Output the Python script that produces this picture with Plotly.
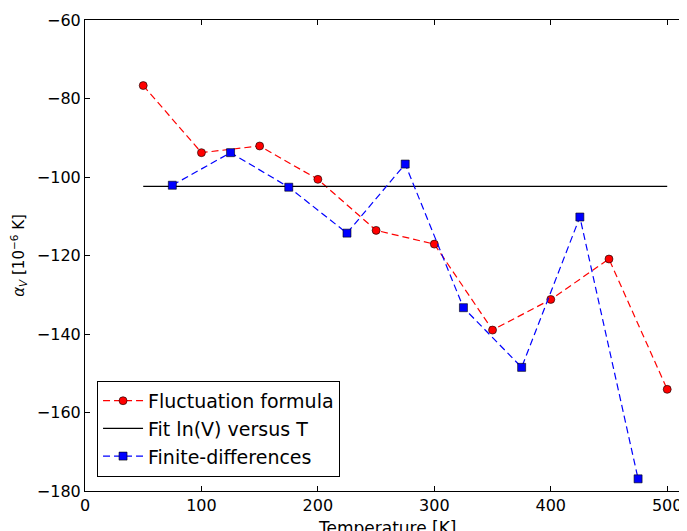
import plotly.graph_objects as go

temp_fluct = [50, 100, 150, 200, 250, 300, 350, 400, 450, 500]
alpha_fluct = [-76.7, -93.8, -92.1, -100.6, -113.6, -117.1, -139.0, -131.2, -120.9, -154.1]

temp_fd = [75, 125, 175, 225, 275, 325, 375, 425, 475]
alpha_fd = [-102.1, -93.8, -102.6, -114.3, -96.7, -133.3, -148.5, -110.2, -176.9]

temp_fit = [50, 500]
alpha_fit = [-102.4, -102.4]

fig = go.Figure()
fig.add_trace(go.Scatter(
    x=temp_fluct, y=alpha_fluct, mode="lines+markers", name="Fluctuation formula",
    line=dict(color="#ff0000", dash="7px,4px", width=1.2),
    marker=dict(symbol="circle", size=8, color="#ff0000", line=dict(color="#000000", width=0.6)),
))
fig.add_trace(go.Scatter(
    x=temp_fit, y=alpha_fit, mode="lines", name="Fit ln(V) versus T",
    line=dict(color="#000000", width=1.2),
))
fig.add_trace(go.Scatter(
    x=temp_fd, y=alpha_fd, mode="lines+markers", name="Finite-differences",
    line=dict(color="#0000ff", dash="7px,4px", width=1.2),
    marker=dict(symbol="square", size=8, color="#0000ff", line=dict(color="#000000", width=0.6)),
))

font_family = "DejaVu Sans"
fig.update_layout(
    width=679, height=523,
    margin=dict(l=77, r=0, t=12, b=40),
    paper_bgcolor="white", plot_bgcolor="white",
    font=dict(family=font_family, color="#000000", size=16),
    showlegend=True,
    legend=dict(
        x=0.02, y=0.03, xanchor="left", yanchor="bottom",
        bgcolor="white", bordercolor="#000000", borderwidth=1,
        font=dict(size=19, family=font_family),
        itemwidth=40, tracegroupgap=0,
    ),
    xaxis=dict(
        range=[0, 517], tickvals=[0, 100, 200, 300, 400, 500],
        showgrid=False, zeroline=False, showline=True, linecolor="#000000", linewidth=1,
        mirror="ticks", ticks="inside", ticklen=5, tickcolor="#000000",
        automargin=False,
    ),
    yaxis=dict(
        range=[-180, -60], tickvals=[-180, -160, -140, -120, -100, -80, -60],
        ticktext=["−180", "−160", "−140", "−120", "−100", "−80", "−60"],
        showgrid=False, zeroline=False, showline=True, linecolor="#000000", linewidth=1,
        mirror="ticks", ticks="inside", ticklen=5, tickcolor="#000000",
        title=dict(text="<i>α</i><sub><i>V</i></sub> [10<sup>−6</sup> K]", font=dict(size=15), standoff=14),
        automargin=False,
    ),
    annotations=[dict(
        text="Temperature [K]", xref="paper", yref="paper", x=0.503, y=-0.054,
        xanchor="center", yanchor="top", showarrow=False, font=dict(size=17),
    )],
)

fig.write_html("out.html")
